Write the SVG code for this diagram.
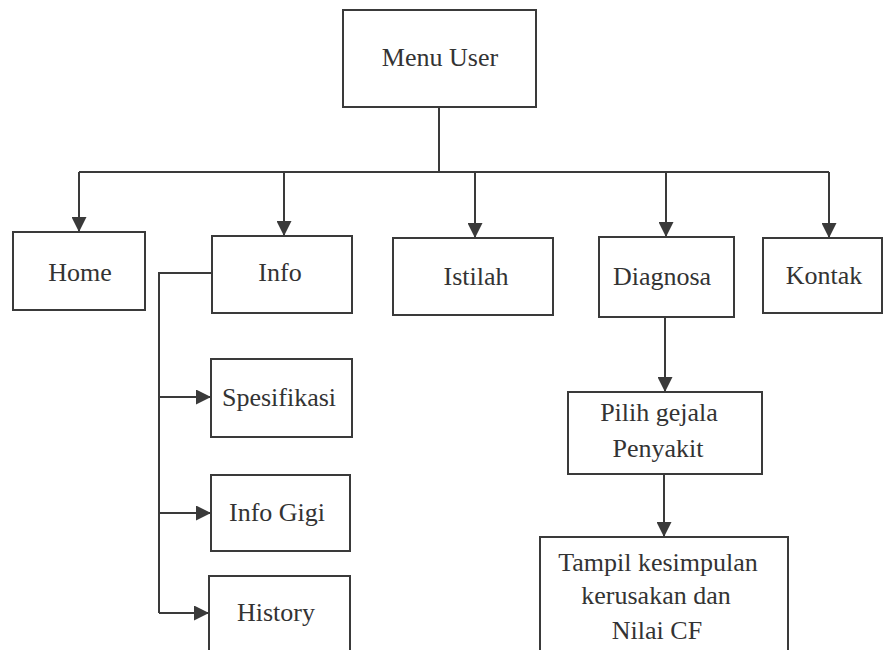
<svg xmlns="http://www.w3.org/2000/svg" width="884" height="650" viewBox="0 0 884 650">
<style>
.box{fill:#fff;stroke:#3a3a3a;stroke-width:2}
.t{font-family:"Liberation Serif","Times New Roman",serif;font-size:26px;fill:#333;text-anchor:middle}
.c{fill:none;stroke:#3a3a3a;stroke-width:2}
</style>
<defs>
<marker id="ah" viewBox="0 0 10 10" refX="10" refY="5" markerWidth="7.5" markerHeight="7.5" markerUnits="strokeWidth" orient="auto">
<path d="M0,0 L10,5 L0,10 Z" fill="#3a3a3a"/>
</marker>
</defs>
<rect width="884" height="650" fill="#fff"/>
<g id="connectors">
<path class="c" d="M439,107 V172"/>
<path class="c" d="M79,172 H829"/>
<path class="c" d="M79,172 V232" marker-end="url(#ah)"/>
<path class="c" d="M284,172 V236" marker-end="url(#ah)"/>
<path class="c" d="M475,172 V238" marker-end="url(#ah)"/>
<path class="c" d="M666,172 V237" marker-end="url(#ah)"/>
<path class="c" d="M829,172 V238" marker-end="url(#ah)"/>
<path class="c" d="M212,273 H159 V613"/>
<path class="c" d="M159,397 H211" marker-end="url(#ah)"/>
<path class="c" d="M159,513 H211" marker-end="url(#ah)"/>
<path class="c" d="M159,613 H209" marker-end="url(#ah)"/>
<path class="c" d="M665,317 V392" marker-end="url(#ah)"/>
<path class="c" d="M664,474 V537" marker-end="url(#ah)"/>
</g>
<g id="menu-user"><rect class="box" x="343" y="10" width="193" height="97"/><text class="t" x="440" y="66">Menu User</text></g>
<g id="home"><rect class="box" x="13" y="232" width="132" height="78"/><text class="t" x="80" y="281">Home</text></g>
<g id="info"><rect class="box" x="212" y="236" width="140" height="77"/><text class="t" x="280" y="281">Info</text></g>
<g id="istilah"><rect class="box" x="393" y="238" width="160" height="77"/><text class="t" x="476" y="285">Istilah</text></g>
<g id="diagnosa"><rect class="box" x="599" y="237" width="135" height="80"/><text class="t" x="662" y="285">Diagnosa</text></g>
<g id="kontak"><rect class="box" x="763" y="238" width="119" height="75"/><text class="t" x="824" y="284">Kontak</text></g>
<g id="spesifikasi"><rect class="box" x="211" y="359" width="141" height="78"/><text class="t" x="279" y="406">Spesifikasi</text></g>
<g id="info-gigi"><rect class="box" x="211" y="475" width="139" height="76"/><text class="t" x="277" y="521">Info Gigi</text></g>
<g id="history"><rect class="box" x="209" y="576" width="141" height="80"/><text class="t" x="276" y="621">History</text></g>
<g id="pilih-gejala"><rect class="box" x="568" y="392" width="194" height="82"/><text class="t" x="659" y="421">Pilih gejala</text><text class="t" x="658" y="457">Penyakit</text></g>
<g id="tampil"><rect class="box" x="540" y="537" width="248" height="120"/><text class="t" x="658" y="571">Tampil kesimpulan</text><text class="t" x="656" y="604">kerusakan dan</text><text class="t" x="657" y="639">Nilai CF</text></g>
</svg>
